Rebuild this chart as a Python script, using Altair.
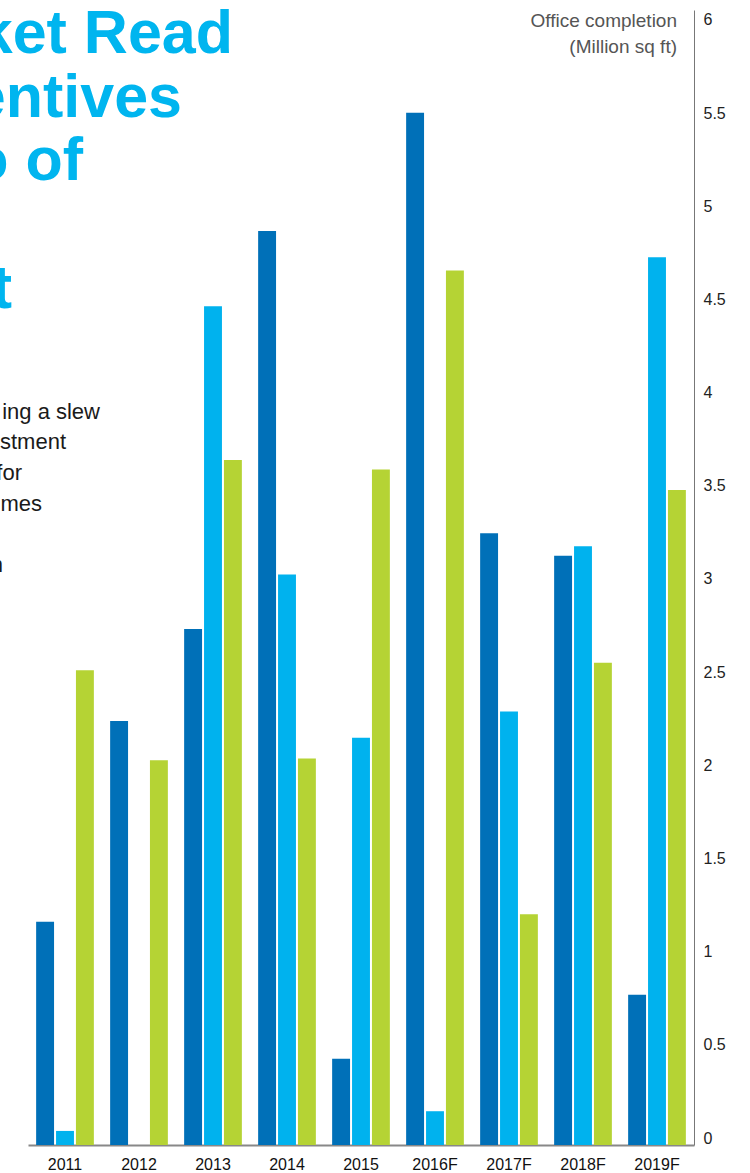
import altair as alt
import pandas as pd

years = ["2011", "2012", "2013", "2014", "2015", "2016F", "2017F", "2018F", "2019F"]
series = ["A", "B", "C"]
series_a = [1.19, 2.26, 2.75, 4.87, 0.46, 5.50, 3.26, 3.14, 0.80]
series_b = [0.075, 0.0, 4.47, 3.04, 2.17, 0.18, 2.31, 3.19, 4.73]
series_c = [2.53, 2.05, 3.65, 2.06, 3.60, 4.66, 1.23, 2.57, 3.49]
colors = ["#0070b8", "#00b2ee", "#b5d334"]
y_ticks = [0, 0.5, 1, 1.5, 2, 2.5, 3, 3.5, 4, 4.5, 5, 5.5, 6]

title_lines = ["ket Read", "entives", "o of", "t"]
body_lines = ["ing a slew", "stment", "for", "mes", "n"]
axis_title = ["Office completion", "(Million sq ft)"]

rows = []
for s, vals in zip(series, [series_a, series_b, series_c]):
    for yr, v in zip(years, vals):
        rows.append({"year": yr, "series": s, "value": v})
df = pd.DataFrame(rows)

FONT = "Liberation Sans"

bars = alt.Chart(df).mark_bar().encode(
    x=alt.X("year:N", sort=years,
            scale=alt.Scale(paddingInner=0.22, paddingOuter=0.11),
            axis=alt.Axis(title=None, ticks=False, labelAngle=0, labelPadding=11,
                          labelFontSize=16, labelColor="#111", labelFont=FONT,
                          domainColor="#888", domainWidth=2)),
    xOffset=alt.XOffset("series:N", sort=series,
                        scale=alt.Scale(paddingInner=0.1, paddingOuter=0)),
    y=alt.Y("value:Q", scale=alt.Scale(domain=[0, 6.048], nice=False, zero=True),
            axis=alt.Axis(orient="right", title=None, ticks=False, grid=False,
                          values=y_ticks, format="~g", labelPadding=9,
                          labelFontSize=16, labelColor="#222", labelFont=FONT,
                          domainColor="#777", domainWidth=1,
                          labelOffset={"expr": "datum.value * 1.33 - 7"})),
    color=alt.Color("series:N", sort=series,
                    scale=alt.Scale(domain=series, range=colors), legend=None),
)


def text_layer(txt, x, y, size, color, weight="normal", align="right"):
    return alt.Chart(pd.DataFrame({"t": [txt]})).mark_text(
        align=align, baseline="alphabetic", font=FONT, fontSize=size,
        fontWeight=weight, color=color,
    ).encode(text="t:N", x=alt.value(x), y=alt.value(y))


layers = [bars]
title_pos = [(205, 43), (154, 107), (55, 170), (-16, 298)]
for txt, (x, y) in zip(title_lines, title_pos):
    layers.append(text_layer(txt, x, y, 61, "#00b5ef", "bold"))
body_pos = [(72, 409), (38, 439), (-6, 470), (14, 501), (-25, 562)]
for txt, (x, y) in zip(body_lines, body_pos):
    layers.append(text_layer(txt, x, y, 22, "#1a1a1a"))
axis_pos = [(649, 17), (649, 43)]
for txt, (x, y) in zip(axis_title, axis_pos):
    layers.append(text_layer(txt, x, y, 19, "#555555"))

chart = alt.layer(*layers).properties(
    width=666, height=1135,
    background="white",
    autosize=alt.AutoSizeParams(type="none"),
    padding={"left": 28, "right": 56, "top": 10, "bottom": 28},
).configure_view(stroke="transparent", strokeWidth=0)

chart.save("out.html", embed_options={"renderer": "svg", "actions": False})
